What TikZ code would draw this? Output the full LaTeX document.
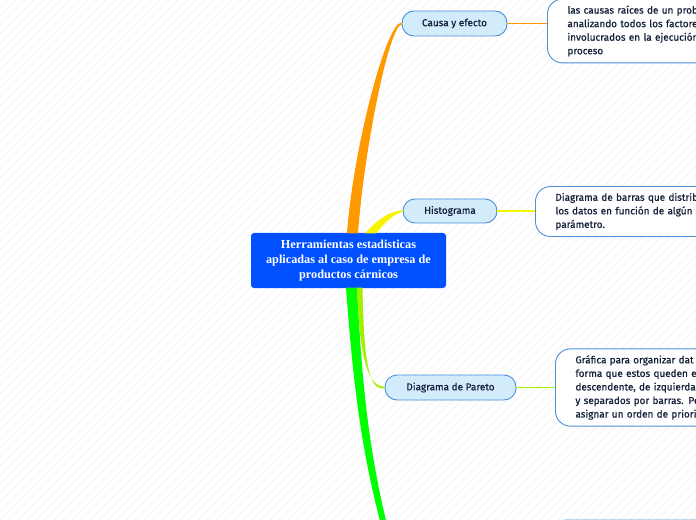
\documentclass[tikz,border=0pt]{standalone}
\usepackage{fontspec}
\setmainfont{Fira Sans}[FakeBold=0.7]
\newfontfamily\titlefont{Liberation Serif}
\usetikzlibrary{calc}
\definecolor{cBlue}{HTML}{0050FF}
\definecolor{cTopicFill}{HTML}{D2ECFB}
\definecolor{cBorder}{HTML}{4A90D9}
\definecolor{cText}{HTML}{14203A}
\definecolor{cOrange}{HTML}{FF9900}
\definecolor{cYellow}{HTML}{F5F500}
\definecolor{cLime}{HTML}{A0F000}
\definecolor{cGreen}{HTML}{00FF00}
\definecolor{cStripe}{HTML}{F1F1F1}
\tikzset{
  central/.style={fill=cBlue, rounded corners=3bp, minimum width=195bp, minimum height=55bp,
    align=center, text=white, font=\titlefont\bfseries\fontsize{12.3}{14.7}\selectfont, inner sep=0pt},
  topic/.style={fill=cTopicFill, draw=cBorder, line width=0.9bp, rounded corners=12bp,
    minimum height=25bp, text=cText, font=\fontsize{10}{13.6}\selectfont, inner sep=0pt},
  desc/.style={fill=white, draw=cBorder, line width=0.9bp, rounded corners=15bp,
    text width=210bp, align=left, inner xsep=20bp, inner ysep=6.5bp,
    text=cText, font=\fontsize{10}{13.6}\selectfont, anchor=west},
  stripe/.style={draw=cStripe, line width=0.6bp},
}
\begin{document}
\begin{tikzpicture}[x=1bp, y=-1bp]
\useasboundingbox (0,0) rectangle (696,520);
\clip (0,0) rectangle (696,520);
\fill[white] (0,0) rectangle (696,520);
\foreach \i in {-540,-531,...,700} { \draw[stripe] (\i,520) -- ++(540,-540); }

% nodes
\node[central] (c) at (348.5,260.5) {Herramientas estadisticas\\aplicadas al caso de empresa de\\productos cárnicos};
\node[topic, minimum width=105bp] (causa) at (454.5,23.5) {Causa y efecto};
\node[topic, minimum width=94bp, minimum height=24bp] (hist) at (450,211) {Histograma};
\node[topic, minimum width=131bp] (pareto) at (450.5,387.5) {Diagrama de Pareto};

\node[desc] (d1) at (547,31) {las causas raíces de un prob\\analizando todos los factore\\involucrados en la ejecución\\proceso};
\node[desc] (d2) at (535,211.5) {Diagrama de barras que distrib\\los datos en función de algún\\parámetro.};
\node[desc] (d3) at (555,387.5) {Gráfica para organizar dat\\forma que estos queden e\\descendente, de izquierda\\y separados por barras. Pe\\asignar un orden de priori};
\node[desc, anchor=north west, minimum height=60bp] (d4) at (552,519.5) {};
\coordinate (t4) at (400,580);

% thin connectors
\draw[cOrange, line width=1.1bp] (causa.east) -- (causa.east -| d1.west);
\draw[cYellow, line width=1.1bp] (hist.east) -- (hist.east -| d2.west);
\draw[cLime, line width=1.2bp] (pareto.east) -- (pareto.east -| d3.west);

% tapered branches
\fill[cOrange] ($(c.north)+(-1.5,0.5)$) .. controls (353,150) and (386,22.5) .. ($(causa.west)+(0,-1)$)
  -- ($(causa.west)+(0,1.2)$) .. controls (389,26) and (364,150) .. ($(c.north)+(9.5,0.5)$) -- cycle;
\fill[cYellow] ($(c.north)+(16.5,0.5)$) .. controls (374,223) and (388,211) .. ($(hist.west)+(0,-0.8)$)
  -- ($(hist.west)+(0,1)$) .. controls (392,214) and (382,226) .. ($(c.north)+(27.5,0.5)$) -- cycle;
\fill[cGreen] ($(c.south)+(-2.5,-0.5)$) .. controls (353,380) and (361,470) .. ($(t4)+(-2.5,0)$)
  -- ($(t4)+(2.5,0)$) .. controls (368,470) and (362,380) .. ($(c.south)+(8.5,-0.5)$) -- cycle;
\fill[cLime] ($(c.south)+(8.5,-0.5)$) .. controls (360,370) and (371,386.5) .. ($(pareto.west)+(0,-0.8)$)
  -- ($(pareto.west)+(0,0.8)$) .. controls (370,390) and (364,370) .. ($(c.south)+(14,-0.5)$) -- cycle;
\end{tikzpicture}
\end{document}
